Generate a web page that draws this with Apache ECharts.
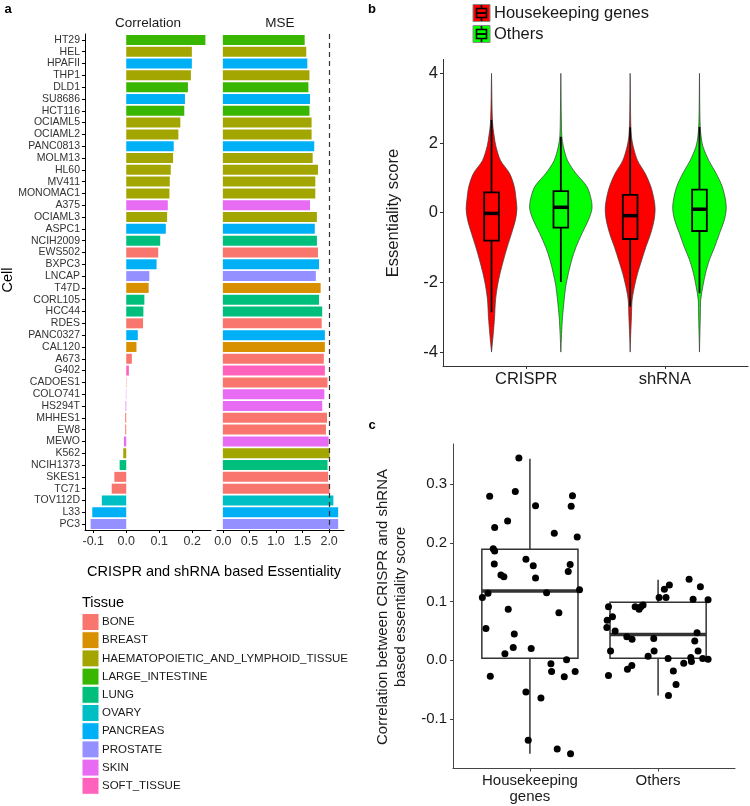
<!DOCTYPE html>
<html><head><meta charset="utf-8">
<script src="https://cdn.jsdelivr.net/npm/echarts@6/dist/echarts.min.js"></script>
<style>html,body{margin:0;padding:0;background:#fff}#c{width:750px;height:806px}</style>
</head><body><div id="c"></div>
<script>
// ---------- Panel a data ----------
const cells = ['HT29','HEL','HPAFII','THP1','DLD1','SU8686','HCT116','OCIAML5','OCIAML2','PANC0813','MOLM13','HL60','MV411','MONOMAC1','A375','OCIAML3','ASPC1','NCIH2009','EWS502','BXPC3','LNCAP','T47D','CORL105','HCC44','RDES','PANC0327','CAL120','A673','G402','CADOES1','COLO741','HS294T','MHHES1','EW8','MEWO','K562','NCIH1373','SKES1','TC71','TOV112D','L33','PC3'];
const cellTissue = ['LARGE_INTESTINE','HAEMATOPOIETIC_AND_LYMPHOID_TISSUE','PANCREAS','HAEMATOPOIETIC_AND_LYMPHOID_TISSUE','LARGE_INTESTINE','PANCREAS','LARGE_INTESTINE','HAEMATOPOIETIC_AND_LYMPHOID_TISSUE','HAEMATOPOIETIC_AND_LYMPHOID_TISSUE','PANCREAS','HAEMATOPOIETIC_AND_LYMPHOID_TISSUE','HAEMATOPOIETIC_AND_LYMPHOID_TISSUE','HAEMATOPOIETIC_AND_LYMPHOID_TISSUE','HAEMATOPOIETIC_AND_LYMPHOID_TISSUE','SKIN','HAEMATOPOIETIC_AND_LYMPHOID_TISSUE','PANCREAS','LUNG','BONE','PANCREAS','PROSTATE','BREAST','LUNG','LUNG','BONE','PANCREAS','BREAST','BONE','SOFT_TISSUE','BONE','SKIN','SKIN','BONE','BONE','SKIN','HAEMATOPOIETIC_AND_LYMPHOID_TISSUE','LUNG','BONE','BONE','OVARY','PANCREAS','PROSTATE'];
const correlation = [0.240,0.199,0.199,0.196,0.187,0.178,0.176,0.164,0.158,0.144,0.142,0.135,0.132,0.131,0.126,0.124,0.120,0.103,0.097,0.092,0.070,0.068,0.055,0.052,0.051,0.035,0.031,0.017,0.008,0.001,-0.001,-0.002,-0.003,-0.003,-0.007,-0.009,-0.020,-0.036,-0.044,-0.074,-0.103,-0.108];
const mse = [1.54,1.57,1.59,1.63,1.61,1.64,1.63,1.67,1.67,1.72,1.69,1.79,1.74,1.74,1.64,1.77,1.73,1.77,1.79,1.81,1.75,1.84,1.81,1.87,1.86,1.92,1.92,1.90,1.92,1.97,1.91,1.87,1.96,1.94,1.99,2.01,1.97,1.98,2.01,2.08,2.17,2.17];
const mseThreshold = 2.0;
const corrTicks = [-0.1, 0, 0.1, 0.2];
const mseTicks = [0, 0.5, 1, 1.5, 2];
const tissues = ['BONE','BREAST','HAEMATOPOIETIC_AND_LYMPHOID_TISSUE','LARGE_INTESTINE','LUNG','OVARY','PANCREAS','PROSTATE','SKIN','SOFT_TISSUE'];
const tissueColors = ['#F8766D','#D89000','#A3A500','#39B600','#00BF7D','#00BFC4','#00B0F6','#9590FF','#E76BF3','#FF62BC'];

// ---------- Panel b data ----------
const methods = ['CRISPR','shRNA'];
const geneGroups = ['Housekeeping genes','Others'];
const groupColors = ['#FF0000','#00FF00'];
const violinLevels = [4.0, 2.6, 2.2, 1.9, 1.5, 1.13, 0.75, 0.36, 0.1, -0.2, -0.6, -1.0, -1.35, -1.75, -2.1, -2.5, -3.0, -3.5, -4.0];
const crisprHousekeepingWidth = [0, .007, .019, .032, .065, .130, .164, .178, .183, .173, .144, .112, .087, .061, .043, .029, .022, .012, 0];
const crisprOthersWidth      = [0, .004, .007, .018, .048, .108, .188, .220, .224, .200, .152, .108, .079, .054, .036, .024, .012, .005, 0];
const shrnaHousekeepingWidth = [0, .004, .009, .022, .053, .108, .149, .173, .180, .173, .148, .112, .084, .053, .032, .014, .009, .004, 0];
const shrnaOthersWidth       = [0, .004, .011, .025, .067, .120, .164, .188, .193, .180, .144, .108, .072, .043, .025, .009, .006, .003, 0];
// order: CRISPR-HK, CRISPR-Others, shRNA-HK, shRNA-Others
const violinLow    = [-2.86, -1.99, -2.69, -2.31];
const violinQ1     = [-0.80, -0.43, -0.755, -0.525];
const violinMedian = [-0.02, 0.155, -0.085, 0.10];
const violinQ3     = [0.585, 0.62, 0.51, 0.66];
const violinHigh   = [2.66, 2.18, 2.45, 2.46];
const scoreTicks = [-4, -2, 0, 2, 4];

// ---------- Panel c data ----------
const boxGroups = ['Housekeeping\ngenes', 'Others'];
const boxLow    = [-0.159, -0.060];
const boxQ1     = [0.0034, 0.0034];
const boxMedian = [0.118, 0.044];
const boxQ3     = [0.189, 0.0987];
const boxHigh   = [0.343, 0.137];
const housekeepingCorr = [0.344,0.279,0.287,0.263,0.280,0.262,0.226,0.237,0.216,0.210,0.190,0.186,0.164,0.172,0.161,0.163,0.151,0.145,0.142,0.140,0.107,0.114,0.115,0.120,0.087,0.081,0.054,0.045,0.011,0.022,0.020,-0.006,0.001,-0.019,-0.028,-0.019,-0.027,-0.054,-0.064,-0.136,-0.151,-0.159];
const housekeepingJitter = [-0.086,-0.314,-0.114,0.044,0.332,0.322,-0.275,-0.174,0.190,0.369,-0.286,-0.275,-0.278,-0.031,0.026,0.314,0.299,-0.226,-0.203,0.044,-0.371,-0.327,0.130,0.387,-0.169,0.226,-0.343,-0.122,-0.195,-0.130,0.010,0.164,0.286,0.169,0.268,0.353,-0.309,-0.031,0.086,-0.013,0.213,0.317];
const othersCorr = [0.091,0.074,0.068,0.056,0.050,0.016,-0.026,0.040,0.036,-0.015,-0.009,0.091,0.087,0.091,0.094,0.007,0.037,0.016,0.107,0.121,0.107,0.128,0.003,-0.060,-0.018,-0.041,-0.005,0.138,0.104,0.033,0.047,0.016,0.005,-0.002,0.125,0.003,0.103,0.002];
const othersJitter = [-0.387,-0.356,-0.397,-0.400,-0.335,-0.371,-0.387,-0.244,-0.203,-0.239,-0.205,-0.179,-0.148,-0.135,-0.117,-0.078,-0.034,-0.031,0.008,0.049,0.062,0.088,0.078,0.081,0.119,0.140,0.200,0.242,0.273,0.286,0.304,0.312,0.255,0.260,0.330,0.348,0.390,0.390];
const corrBoxTicks = [-0.1, 0, 0.1, 0.2, 0.3];

// ---------- build ----------
const FONT = 'Liberation Sans, Arial, Helvetica, sans-serif';
const chart = echarts.init(document.getElementById('c'), null, {renderer: 'canvas'});
const colorOf = t => tissueColors[tissues.indexOf(t)];

const violinWidths = [crisprHousekeepingWidth, crisprOthersWidth, shrnaHousekeepingWidth, shrnaOthersWidth];
const dodge = 0.25;
const violinData = violinWidths.map((w, i) => [Math.floor(i / 2) + (i % 2 ? dodge : -dodge), violinMedian[i], i]);

function renderViolin(params, api) {
  const i = params.dataIndex;
  const xc = violinData[i][0];
  const w = violinWidths[i];
  const pts = [];
  for (let j = 0; j < violinLevels.length; j++) pts.push(api.coord([xc + w[j], violinLevels[j]]));
  for (let j = violinLevels.length - 1; j >= 0; j--) pts.push(api.coord([xc - w[j], violinLevels[j]]));
  const hb = 0.053;
  const fill = groupColors[i % 2];
  const pTop = api.coord([xc, violinHigh[i]]), pBot = api.coord([xc, violinLow[i]]);
  const q3L = api.coord([xc - hb, violinQ3[i]]), q1R = api.coord([xc + hb, violinQ1[i]]);
  const mL = api.coord([xc - hb, violinMedian[i]]), mR = api.coord([xc + hb, violinMedian[i]]);
  const q3c = api.coord([xc, violinQ3[i]]), q1c = api.coord([xc, violinQ1[i]]);
  return {type: 'group', children: [
    {type: 'polygon', shape: {points: pts, smooth: 0.3}, style: {fill: fill, stroke: '#3a3a3a', lineWidth: 0.7}},
    {type: 'line', shape: {x1: pTop[0], y1: pTop[1], x2: q3c[0], y2: q3c[1]}, style: {stroke: '#000', lineWidth: 1.8}},
    {type: 'line', shape: {x1: q1c[0], y1: q1c[1], x2: pBot[0], y2: pBot[1]}, style: {stroke: '#000', lineWidth: 1.8}},
    {type: 'rect', shape: {x: q3L[0], y: q3L[1], width: q1R[0] - q3L[0], height: q1R[1] - q3L[1]}, style: {fill: fill, stroke: '#000', lineWidth: 1.8}},
    {type: 'line', shape: {x1: mL[0], y1: mL[1], x2: mR[0], y2: mR[1]}, style: {stroke: '#000', lineWidth: 3.5}}
  ]};
}

const boxData = boxGroups.map((g, i) => [i, boxMedian[i]]);
function renderBox(params, api) {
  const i = params.dataIndex;
  const xc = i, hb = 0.375;
  const pTop = api.coord([xc, boxHigh[i]]), pBot = api.coord([xc, boxLow[i]]);
  const q3L = api.coord([xc - hb, boxQ3[i]]), q1R = api.coord([xc + hb, boxQ1[i]]);
  const mL = api.coord([xc - hb, boxMedian[i]]), mR = api.coord([xc + hb, boxMedian[i]]);
  const q3c = api.coord([xc, boxQ3[i]]), q1c = api.coord([xc, boxQ1[i]]);
  const st = {stroke: '#333', lineWidth: 1.5};
  return {type: 'group', children: [
    {type: 'line', shape: {x1: pTop[0], y1: pTop[1], x2: q3c[0], y2: q3c[1]}, style: st},
    {type: 'line', shape: {x1: q1c[0], y1: q1c[1], x2: pBot[0], y2: pBot[1]}, style: st},
    {type: 'rect', shape: {x: q3L[0], y: q3L[1], width: q1R[0] - q3L[0], height: q1R[1] - q3L[1]}, style: {fill: 'none', stroke: '#333', lineWidth: 1.5}},
    {type: 'line', shape: {x1: mL[0], y1: mL[1], x2: mR[0], y2: mR[1]}, style: {stroke: '#333', lineWidth: 3.5}}
  ]};
}

const axisLineStyle = c => ({show: true, onZero: false, lineStyle: {color: c, width: 1}});
const tick3 = (vals, color) => ({show: true, length: 3, customValues: vals, lineStyle: {color: color || '#000'}});
const fmt1 = v => (Math.abs(v) < 1e-9 ? 0 : v).toFixed(1);

// graphic elements
const graphics = [];
function txt(x, y, text, size, opts) {
  graphics.push(Object.assign({type: 'text', x: x, y: y, silent: true,
    style: Object.assign({text: text, fill: '#000', font: size + 'px ' + FONT, align: 'center', verticalAlign: 'middle'}, (opts && opts.style) || {})},
    opts && opts.rotation ? {rotation: opts.rotation} : {}));
}
txt(8, 9, 'a', 13, {style: {font: 'bold 13px ' + FONT}});
txt(372, 9, 'b', 13, {style: {font: 'bold 13px ' + FONT}});
txt(372, 425, 'c', 13, {style: {font: 'bold 13px ' + FONT}});
txt(148, 23, 'Correlation', 13.5, {style: {fill: '#1a1a1a'}});
txt(280, 23, 'MSE', 13.5, {style: {fill: '#1a1a1a'}});
txt(8, 280, 'Cell', 14.5, {rotation: Math.PI / 2});
txt(214, 572, 'CRISPR and shRNA based Essentiality', 14.5);
txt(82, 603, 'Tissue', 14.5, {style: {align: 'left'}});
tissues.forEach((t, i) => {
  const cy = 622 + 18.2 * i;
  graphics.push({type: 'rect', shape: {x: 82, y: cy - 8.5, width: 17, height: 17}, style: {fill: tissueColors[i], stroke: '#fff', lineWidth: 1}, silent: true});
  txt(102, cy, t, 11.5, {style: {align: 'left', fill: '#1a1a1a'}});
});
// panel b legend
geneGroups.forEach((g, i) => {
  const cy = 13 + 21 * i, x0 = 473;
  graphics.push({type: 'rect', shape: {x: x0, y: cy - 8.5, width: 17, height: 17}, style: {fill: groupColors[i], stroke: '#8a8a8a', lineWidth: 1}, silent: true});
  graphics.push({type: 'rect', shape: {x: x0 + 3.5, y: cy - 4.5, width: 10, height: 9}, style: {fill: groupColors[i], stroke: '#000', lineWidth: 1.6}, silent: true});
  graphics.push({type: 'line', shape: {x1: x0 + 3.5, y1: cy, x2: x0 + 13.5, y2: cy}, style: {stroke: '#000', lineWidth: 1.8}, silent: true});
  graphics.push({type: 'line', shape: {x1: x0 + 8.5, y1: cy - 8, x2: x0 + 8.5, y2: cy - 4.5}, style: {stroke: '#000', lineWidth: 1.6}, silent: true});
  graphics.push({type: 'line', shape: {x1: x0 + 8.5, y1: cy + 4.5, x2: x0 + 8.5, y2: cy + 8}, style: {stroke: '#000', lineWidth: 1.6}, silent: true});
  txt(494, cy, g, 16.5, {style: {align: 'left', fill: '#1a1a1a'}});
});
txt(393, 213, 'Essentiality score', 16.5, {rotation: Math.PI / 2, style: {fill: '#1a1a1a'}});
txt(392, 607, 'Correlation between CRISPR and shRNA\nbased essentiality score', 15, {rotation: Math.PI / 2, style: {fill: '#1a1a1a', lineHeight: 18}});

const option = {
  animation: false,
  textStyle: {fontFamily: FONT},
  grid: [
    {left: 85, top: 34, width: 126, height: 496},
    {left: 217, top: 34, width: 127, height: 496},
    {left: 443, top: 59.4, width: 305, height: 306.6},
    {left: 453, top: 444, width: 282, height: 324.5}
  ],
  xAxis: [
    {type: 'value', gridIndex: 0, min: -0.125, max: 0.257, splitLine: {show: false}, axisLine: axisLineStyle('#000'),
     axisTick: tick3(corrTicks), axisLabel: {customValues: corrTicks, formatter: fmt1, fontSize: 12.5, color: '#333', margin: 5}},
    {type: 'value', gridIndex: 1, min: -0.11, max: 2.28, splitLine: {show: false}, axisLine: axisLineStyle('#000'),
     axisTick: tick3(mseTicks), axisLabel: {customValues: mseTicks, formatter: fmt1, fontSize: 12.5, color: '#333', margin: 5}},
    {type: 'value', gridIndex: 2, min: -0.6, max: 1.6, splitLine: {show: false}, axisLine: axisLineStyle('#333'),
     axisTick: tick3([0, 1], '#333'), axisLabel: {customValues: [0, 1], formatter: v => methods[Math.round(v)], fontSize: 16.5, color: '#1a1a1a', margin: 5}},
    {type: 'value', gridIndex: 3, min: -0.6, max: 1.6, splitLine: {show: false}, axisLine: axisLineStyle('#444'),
     axisTick: tick3([0, 1], '#444'), axisLabel: {customValues: [0, 1], formatter: v => boxGroups[Math.round(v)], fontSize: 15, lineHeight: 16, color: '#1a1a1a', margin: 4}}
  ],
  yAxis: [
    {type: 'category', gridIndex: 0, data: cells, inverse: true, axisLine: axisLineStyle('#000'),
     axisTick: {show: true, length: 3, alignWithLabel: true, lineStyle: {color: '#000'}},
     axisLabel: {interval: 0, fontSize: 10.5, color: '#333', margin: 5}},
    {type: 'category', gridIndex: 1, data: cells, inverse: true, axisLine: {show: false}, axisTick: {show: false}, axisLabel: {show: false}},
    {type: 'value', gridIndex: 2, min: -4.4, max: 4.4, splitLine: {show: false}, axisLine: axisLineStyle('#333'),
     axisTick: tick3(scoreTicks, '#333'), axisLabel: {customValues: scoreTicks, fontSize: 16.5, color: '#1a1a1a', margin: 5}},
    {type: 'value', gridIndex: 3, min: -0.184, max: 0.368, splitLine: {show: false}, axisLine: axisLineStyle('#444'),
     axisTick: tick3(corrBoxTicks, '#444'), axisLabel: {customValues: corrBoxTicks, formatter: fmt1, fontSize: 15, color: '#1a1a1a', margin: 6}}
  ],
  series: [
    {type: 'bar', xAxisIndex: 0, yAxisIndex: 0, barWidth: 10,
     data: correlation.map((v, i) => ({value: v, itemStyle: {color: colorOf(cellTissue[i])}}))},
    {type: 'bar', xAxisIndex: 1, yAxisIndex: 1, barWidth: 10,
     data: mse.map((v, i) => ({value: v, itemStyle: {color: colorOf(cellTissue[i])}})),
     markLine: {silent: true, symbol: 'none', label: {show: false},
       lineStyle: {color: '#333', type: [5, 4], width: 1.2}, data: [{xAxis: mseThreshold}]}},
    {type: 'custom', xAxisIndex: 2, yAxisIndex: 2, renderItem: renderViolin, data: violinData, encode: {x: 0, y: 1}},
    {type: 'custom', xAxisIndex: 3, yAxisIndex: 3, renderItem: renderBox, data: boxData, encode: {x: 0, y: 1}},
    {type: 'scatter', xAxisIndex: 3, yAxisIndex: 3, symbolSize: 7, itemStyle: {color: '#000', opacity: 1}, z: 5,
     data: housekeepingCorr.map((v, i) => [0 + housekeepingJitter[i], v]).concat(othersCorr.map((v, i) => [1 + othersJitter[i], v]))}
  ],
  graphic: graphics
};
chart.setOption(option);
</script>
</body></html>
